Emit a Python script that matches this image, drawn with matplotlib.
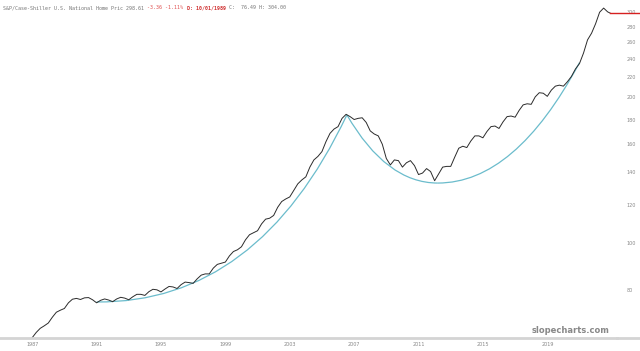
import matplotlib
matplotlib.use("Agg")
import matplotlib.pyplot as plt
import numpy as np
from matplotlib.path import Path
from matplotlib.patches import PathPatch

# S&P/Case-Shiller U.S. National Home Price Index (not seasonally adjusted),
# quarterly readings (Jan, Apr, Jul, Oct), 1987 - 2022
years = list(range(1987, 2023))
index_values = [
    63.7, 65.3, 66.6, 67.4,      # 1987
    68.3, 70.2, 71.9, 72.6,      # 1988
    73.2, 75.2, 76.5, 76.8,      # 1989
    76.4, 77.0, 77.1, 76.3,      # 1990
    75.2, 76.1, 76.6, 76.2,      # 1991
    75.6, 76.6, 77.2, 76.9,      # 1992
    76.3, 77.4, 78.3, 78.3,      # 1993
    77.9, 79.3, 80.2, 80.0,      # 1994
    79.2, 80.3, 81.3, 81.1,      # 1995
    80.5, 82.0, 83.0, 82.8,      # 1996
    82.5, 84.3, 85.8, 86.3,      # 1997
    86.3, 88.7, 90.3, 90.8,      # 1998
    91.3, 94.0, 96.0, 96.8,      # 1999
    98.2, 101.5, 104.0, 105.0,   # 2000
    106.0, 109.5, 112.0, 112.5,  # 2001
    114.0, 118.5, 121.8, 123.3,  # 2002
    124.5, 128.5, 132.5, 135.0,  # 2003
    137.0, 143.5, 148.5, 151.0,  # 2004
    154.5, 162.0, 168.5, 172.0,  # 2005
    174.0, 181.0, 184.5, 182.5,  # 2006
    180.0, 181.0, 181.5, 177.5,  # 2007
    170.5, 168.0, 166.5, 160.0,  # 2008
    149.5, 145.0, 148.5, 148.0,  # 2009
    143.5, 146.5, 148.0, 144.5,  # 2010
    138.5, 139.5, 142.5, 140.5,  # 2011
    134.5, 139.0, 143.5, 144.0,  # 2012
    144.0, 150.5, 157.0, 158.5,  # 2013
    157.5, 162.5, 166.5, 166.5,  # 2014
    165.0, 170.0, 174.0, 174.5,  # 2015
    172.5, 178.0, 182.5, 183.0,  # 2016
    182.0, 188.0, 193.0, 194.0,  # 2017
    193.5, 200.5, 204.5, 204.0,  # 2018
    201.0, 207.0, 211.0, 212.0,  # 2019
    211.0, 215.5, 221.0, 229.0,  # 2020
    235.0, 247.0, 263.0, 271.5,  # 2021
    284.0, 300.0, 306.0, 300.5,  # 2022
]
last_date = 2022.92
last_value = 298.6

dates = [y + q / 4 for y in years for q in range(4)] + [last_date]
values = index_values + [last_value]

# hand-drawn "cup" annotations: (start, control, end) points
left_curve = [(1991.0, 75.5), (2001.0, 75.0), (2006.55, 184.0)]
right_curve_down = [(2006.55, 184.0), (2009.0, 133.0), (2012.2, 133.0)]
right_curve_up = [(2012.2, 133.0), (2017.0, 133.0), (2021.0, 236.0)]

x_ticks = [1987, 1991, 1995, 1999, 2003, 2007, 2011, 2015, 2019]
y_ticks = [80, 100, 120, 140, 160, 180, 200, 220, 240, 260, 280, 300]

header_parts = [
    ("S&P/Case-Shiller U.S. National Home Pric 298.61", "#777777", "normal"),
    ("-3.36 -1.11%", "#e05050", "normal"),
    ("D: 10/01/1989", "#d03030", "bold"),
    ("C:  76.49 H: 304.00", "#777777", "normal"),
]

fig = plt.figure(figsize=(6.4, 3.51), dpi=100)
ax = fig.add_axes([0.0, 1 - 338 / 351, 617 / 640, 338 / 351])

ax.plot(dates, values, color="#2b2b2b", lw=0.7)

for pts in (left_curve, right_curve_down, right_curve_up):
    path = Path(pts, [Path.MOVETO, Path.CURVE3, Path.CURVE3])
    ax.add_patch(PathPatch(path, facecolor="none", edgecolor="#6bbccc", lw=0.9))

ax.set_yscale("log")
ax.set_xlim(1985.0, 2023.33)
ax.set_ylim(63.6, 318)

ax.set_xticks(x_ticks)
ax.set_xticklabels([str(t) for t in x_ticks])
ax.set_yticks(y_ticks)
ax.set_yticklabels([str(t) for t in y_ticks])
ax.yaxis.set_minor_locator(matplotlib.ticker.NullLocator())
ax.tick_params(axis="both", length=0, labelsize=3.5, colors="#888888")
ax.tick_params(axis="x", pad=3)
ax.yaxis.tick_right()
ax.tick_params(axis="y", pad=7)

for side in ("top", "left", "right"):
    ax.spines[side].set_visible(False)
ax.spines["bottom"].set_color("#d4d4d4")
ax.spines["bottom"].set_linewidth(2)
fig.add_artist(plt.Line2D([617 / 640, 1.0], [1 - 338 / 351] * 2, color="#d4d4d4", lw=2))

# last price marker
ax.plot([last_date, 2025.0], [last_value, last_value], color="#d62020", lw=1.0, clip_on=False)

# header: monospace, so place each part after the previous one by character count
font_pt = 3.6
char_px = 0.602 * font_pt * 100 / 72
x_px = 3
for text, color, weight in header_parts:
    fig.text(x_px / 640, 0.985, text, fontsize=font_pt, family="DejaVu Sans Mono",
             color=color, weight=weight, va="top")
    x_px += (len(text) + 1) * char_px

fig.text(0.952, 1 - 335 / 351, "slopecharts.com", fontsize=6, color="#888888",
         ha="right", va="bottom", weight="bold")

fig.savefig("out.png", dpi=100, facecolor="white")
